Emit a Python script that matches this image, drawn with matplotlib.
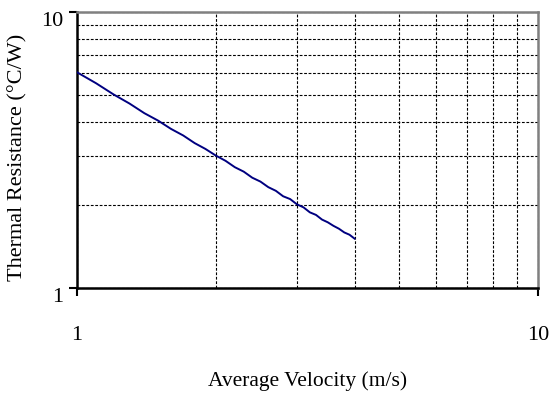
import numpy as np
import matplotlib.pyplot as plt
from matplotlib.ticker import LogLocator, NullFormatter, FixedFormatter, FixedLocator
from matplotlib.transforms import ScaledTranslation

plt.rcParams['font.family'] = ['Liberation Serif', 'DejaVu Serif']

# average velocity (m/s) vs thermal resistance (C/W)
velocity = [1.0, 1.1, 1.2, 1.3, 1.4, 1.5, 1.6, 1.7, 1.8, 1.9, 2.0,
            2.1, 2.2, 2.3, 2.4, 2.5, 2.6, 2.7, 2.8, 2.9, 3.0,
            3.1, 3.2, 3.3, 3.4, 3.5, 3.6, 3.7, 3.8, 3.9, 4.0]
resistance = [6.05, 5.52, 5.03, 4.66, 4.30, 4.04, 3.77, 3.57, 3.35, 3.19, 3.02,
              2.89, 2.74, 2.64, 2.51, 2.43, 2.32, 2.25, 2.15, 2.10, 2.01,
              1.96, 1.88, 1.84, 1.77, 1.73, 1.68, 1.64, 1.59, 1.56, 1.51]

x_ticks = [1, 10]
x_labels = ['1', '10']
y_ticks = [1, 10]
y_labels = ['1', '10']

fig = plt.figure(figsize=(5.51, 3.94), dpi=100)
ax = fig.add_axes([0.1397, 0.269, 0.8367, 0.7005])
ax.set_xscale('log')
ax.set_yscale('log')
ax.set_xlim(1, 10)
ax.set_ylim(1, 10)

ax.plot(velocity, resistance, color='#000080', lw=1.4, zorder=3)

ax.xaxis.set_major_locator(FixedLocator(x_ticks))
ax.xaxis.set_major_formatter(FixedFormatter(x_labels))
ax.yaxis.set_major_locator(FixedLocator(y_ticks))
ax.yaxis.set_major_formatter(FixedFormatter(y_labels))
ax.xaxis.set_minor_locator(LogLocator(base=10, subs=np.arange(2, 10)))
ax.yaxis.set_minor_locator(LogLocator(base=10, subs=np.arange(2, 10)))
ax.xaxis.set_minor_formatter(NullFormatter())
ax.yaxis.set_minor_formatter(NullFormatter())

ax.grid(True, which='both', color='black', linestyle=(0, (2.5, 1.5)), lw=0.8)
ax.tick_params(which='minor', length=0)
ax.tick_params(which='major', direction='out', length=6, width=1.5, labelsize=16)
ax.tick_params(axis='x', which='major', pad=21)
ax.tick_params(axis='y', which='major', pad=4)

# y tick labels sit a little below their ticks in the original
shift = ScaledTranslation(0, -5 / 72, fig.dpi_scale_trans)
for lab in ax.get_yticklabels():
    lab.set_transform(lab.get_transform() + shift)

for s in ['left', 'bottom']:
    ax.spines[s].set_color('black')
    ax.spines[s].set_linewidth(1.8)
for s in ['top', 'right']:
    ax.spines[s].set_color('#808080')
    ax.spines[s].set_linewidth(1.8)

ax.set_xlabel('Average Velocity (m/s)', fontsize=15.5)
ax.set_ylabel('Thermal Resistance (°C/W)', fontsize=16)
ax.xaxis.set_label_coords(0.5, -0.3)
ax.yaxis.set_label_coords(-0.108, 0.475)

plt.savefig('out.png', dpi=100)
